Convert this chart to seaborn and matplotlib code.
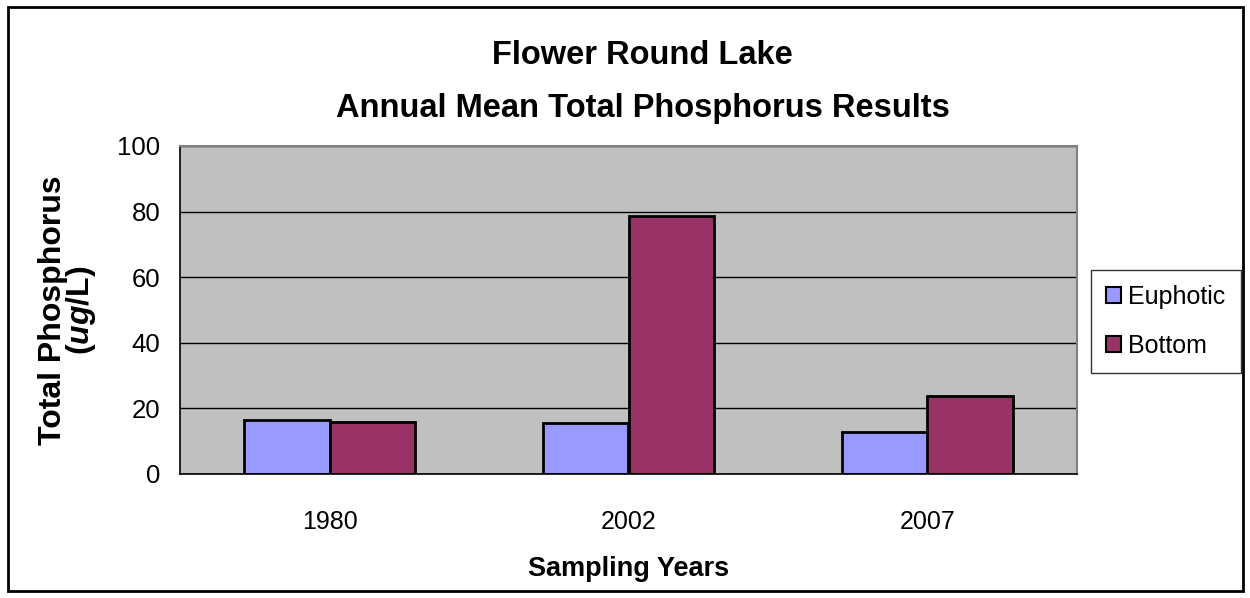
import pandas as pd
import numpy as np
import matplotlib
matplotlib.use("Agg")
import matplotlib.pyplot as plt
import seaborn as sns
from matplotlib.patches import Rectangle

years = ["1980", "2002", "2007"]
euphotic = [16.5, 15.5, 12.9]
bottom = [15.7, 78.6, 23.8]
series_names = ["Euphotic", "Bottom"]
colors = ["#9999FF", "#993366"]

df = pd.DataFrame({
    "year": years * 2,
    "tp": euphotic + bottom,
    "layer": [series_names[0]] * 3 + [series_names[1]] * 3,
})

sns.set_style("white")
plt.rcParams['font.family'] = ['Liberation Sans', 'DejaVu Sans']
plt.rcParams['text.color'] = 'black'
plt.rcParams['axes.labelcolor'] = 'black'
plt.rcParams['xtick.color'] = 'black'
plt.rcParams['ytick.color'] = 'black'
plt.rcParams['mathtext.fontset'] = 'custom'
plt.rcParams['mathtext.bfit'] = 'Liberation Sans:italic:bold'
plt.rcParams['mathtext.it'] = 'Liberation Sans:italic'
plt.rcParams['mathtext.rm'] = 'Liberation Sans'

fig = plt.figure(figsize=(12.5, 5.98), dpi=100)
ax = fig.add_axes([0.144, 0.2074, 0.7176, 0.5485])

sns.barplot(data=df, x="year", y="tp", hue="layer", order=years,
            hue_order=series_names, palette=colors, width=0.575, gap=0,
            edgecolor="black", linewidth=2, saturation=1, ax=ax)

ax.set_facecolor("#C0C0C0")
ax.set_xlim(-0.5, 2.5)
ax.set_ylim(0, 100)
ax.set_yticks(np.arange(0, 101, 20))
ax.yaxis.grid(True, color="black", linewidth=1)
ax.set_axisbelow(True)

# category ticks sit on the boundaries, labels at centres
ax.set_xticks([-0.5, 0.5, 1.5, 2.5])
ax.set_xticklabels([])
ax.set_xticks([0, 1, 2], minor=True)
ax.set_xticklabels(years, minor=True)
ax.tick_params(axis="x", which="minor", length=0, pad=26, labelsize=18)
ax.tick_params(axis="x", which="major", length=8, width=1, direction="out")
ax.tick_params(axis="y", length=8, width=1, direction="out", pad=6, labelsize=18.5)

for side in ["left", "bottom"]:
    ax.spines[side].set_color("black")
    ax.spines[side].set_linewidth(1.2)
for side in ["top", "right"]:
    ax.spines[side].set_color("#808080")
    ax.spines[side].set_linewidth(1.5)

ax.set_xlabel("Sampling Years", fontsize=19.5, fontweight="bold", labelpad=16)
ax.set_ylabel("Total Phosphorus\n" + r"($\mathbfit{ug}$/L)", fontsize=23,
              fontweight="bold", labelpad=14, linespacing=0.85)

fig.text(0.514, 0.908, "Flower Round Lake", ha="center", va="center",
         fontsize=23.5, fontweight="bold")
fig.text(0.514, 0.818, "Annual Mean Total Phosphorus Results", ha="center",
         va="center", fontsize=23.5, fontweight="bold")

leg = ax.legend(loc="center left", bbox_to_anchor=(1.0156, 0.466), fontsize=18,
                frameon=True, fancybox=False, edgecolor="black",
                handlelength=0.6, handleheight=0.6, handletextpad=0.3,
                labelspacing=1.0, borderpad=0.6, borderaxespad=0)
leg.get_frame().set_linewidth(1)
for h in leg.legend_handles:
    h.set_linewidth(1.5)

fig.patches.append(Rectangle((0.006, 0.012), 0.988, 0.976, transform=fig.transFigure,
                             fill=False, edgecolor="black", linewidth=2))

fig.savefig("out.png", dpi=100)
